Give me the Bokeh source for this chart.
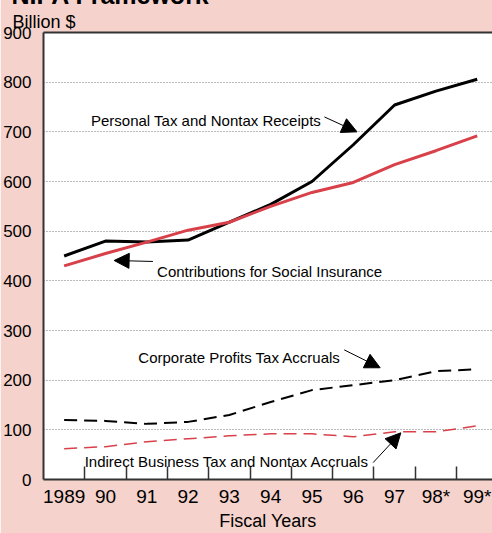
from bokeh.plotting import figure
from bokeh.models import (Range1d, FixedTicker, LinearAxis, Label, Arrow,
                          NormalHead, Title)
from bokeh.embed import file_html
from bokeh.resources import INLINE

# ---- data ----
years = [1989, 1990, 1991, 1992, 1993, 1994, 1995, 1996, 1997, 1998, 1999]
year_labels = ["1989", "90", "91", "92", "93", "94", "95", "96", "97", "98*", "99*"]
personal_tax = [450, 480, 478, 482, 518, 554, 600, 674, 754, 782, 806]
social_insurance = [430, 455, 478, 502, 518, 550, 578, 598, 634, 662, 692]
corporate_profits = [120, 118, 112, 116, 130, 156, 180, 190, 200, 218, 222]
indirect_business = [62, 66, 76, 82, 88, 92, 92, 86, 96, 96, 108]
y_ticks = [0, 100, 200, 300, 400, 500, 600, 700, 800, 900]

BG = "#F5D2CB"
RED = "#D8404A"
DARK = "#333333"
FONT = "Liberation Sans"
ANN_SIZE = "15px"
SHIFT = 24  # the top of the figure lies above the page edge (title is cut off)

p = figure(width=492, height=533 + SHIFT, output_backend="svg", toolbar_location=None,
           title_location=None,
           x_range=Range1d(1988.5, 1999.37), y_range=Range1d(0, 900),
           min_border_left=41, min_border_right=0, min_border_top=32 + SHIFT,
           min_border_bottom=52)
p.margin = (-SHIFT, 0, 0, 0)
p.background_fill_color = "white"
p.border_fill_color = BG
p.outline_line_color = None

# y axis
p.yaxis.ticker = FixedTicker(ticks=y_ticks)
p.yaxis.major_tick_line_color = None
p.yaxis.minor_tick_line_color = None
p.yaxis.major_tick_out = 0
p.yaxis.major_tick_in = 0
p.yaxis.major_label_standoff = 12
p.yaxis.major_label_text_font = FONT
p.yaxis.major_label_text_font_size = "17px"
p.yaxis.major_label_text_color = "black"
p.yaxis.axis_line_color = DARK
p.yaxis.axis_line_width = 2

# grids
p.xgrid.grid_line_color = None
p.ygrid.ticker = FixedTicker(ticks=y_ticks[1:-1])
p.ygrid.grid_line_color = "#777777"
p.ygrid.grid_line_dash = "1 2"
p.ygrid.grid_line_width = 1

# x axis: labels at years, tick marks between years
p.xaxis.ticker = FixedTicker(ticks=years, minor_ticks=[y + 0.5 for y in years[:-1]])
p.xaxis.major_label_overrides = {y: l for y, l in zip(years, year_labels)}
p.xaxis.major_tick_line_color = None
p.xaxis.major_tick_in = 0
p.xaxis.major_tick_out = 0
p.xaxis.minor_tick_in = 13
p.xaxis.minor_tick_out = 0
p.xaxis.minor_tick_line_color = DARK
p.xaxis.minor_tick_line_width = 1.5
p.xaxis.major_label_standoff = 6
p.xaxis.major_label_text_font = FONT
p.xaxis.major_label_text_font_size = "19px"
p.xaxis.major_label_text_color = "black"
p.xaxis.axis_line_color = DARK
p.xaxis.axis_line_width = 2
p.xaxis.axis_label = "Fiscal Years"
p.xaxis.axis_label_standoff = 1
p.xaxis.axis_label_text_font = FONT
p.xaxis.axis_label_text_font_size = "18px"
p.xaxis.axis_label_text_font_style = "normal"
p.xaxis.axis_label_text_color = "black"

# top frame line
xa_top = LinearAxis(ticker=FixedTicker(ticks=[]), major_tick_line_color=None,
                    minor_tick_line_color=None, major_tick_out=0, major_tick_in=0,
                    major_label_standoff=0,
                    axis_line_color=DARK, axis_line_width=2)
p.add_layout(xa_top, "above")

# unit label and chart title above the plot
p.add_layout(Title(text="Billion $", align="left", offset=-31, standoff=2,
                   text_font=FONT, text_font_size="18px",
                   text_font_style="normal", text_color="black"), "above")
p.add_layout(Title(text="NIPA Framework", align="left", offset=-32, standoff=0,
                   text_font=FONT, text_font_size="25px",
                   text_font_style="bold", text_color="black"), "above")

# series
p.line(years, personal_tax, line_color="black", line_width=3)
p.line(years, social_insurance, line_color=RED, line_width=3)
p.line(years, corporate_profits, line_color="black", line_width=2, line_dash="13 7")
p.line(years, indirect_business, line_color=RED, line_width=1.5, line_dash="13 7")

# annotations
def ann(x, y, text, align):
    p.add_layout(Label(x=x, y=y, text=text, text_font=FONT,
                       text_font_size=ANN_SIZE, text_color="black",
                       text_align=align, text_baseline="alphabetic"))

def arrow(x0, y0, x1, y1):
    p.add_layout(Arrow(x_start=x0, y_start=y0, x_end=x1, y_end=y1,
                       line_color="black", line_width=1,
                       end=NormalHead(size=15, fill_color="black",
                                      line_color="black", line_width=1)))

ann(1995.22, 722, "Personal Tax and Nontax Receipts", "right")
arrow(1995.30, 730, 1996.09, 700)
ann(1991.25, 419, "Contributions for Social Insurance", "left")
arrow(1991.15, 439, 1990.21, 441)
ann(1995.70, 245, "Corporate Profits Tax Accruals", "right")
arrow(1995.78, 261, 1996.65, 225)
ann(1996.38, 36, "Indirect Business Tax and Nontax Accruals", "right")
arrow(1996.48, 34, 1997.15, 94)

open("out.html", "w").write(file_html(p, INLINE))
